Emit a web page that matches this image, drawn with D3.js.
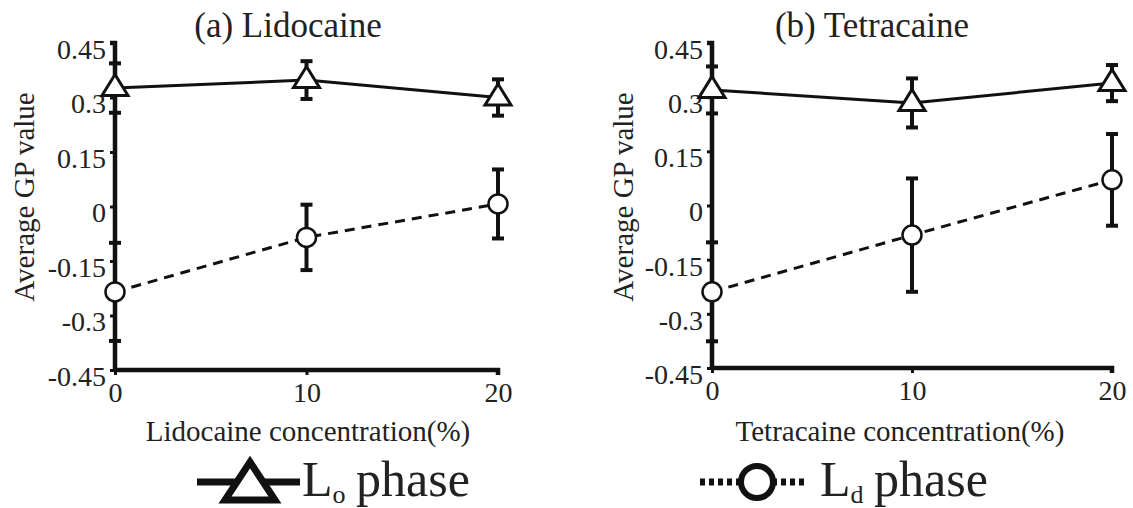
<!DOCTYPE html>
<html>
<head>
<meta charset="utf-8">
<script src="https://cdn.jsdelivr.net/npm/d3@7"></script>
<style>
  body { margin: 0; background: #fff; }
  svg { display: block; }
  text { font-family: "Liberation Serif", "Times New Roman", serif; fill: #222; }
</style>
</head>
<body>
<div id="container"></div>
<script>
/* DATA */
const conc = [0, 10, 20]
const yTicks = [0.45, 0.3, 0.15, 0, -0.15, -0.3, -0.45]
const yTickLabels = ["0.45", "0.3", "0.15", "0", "-0.15", "-0.3", "-0.45"]

const loLido = [0.326, 0.348, 0.300]
const loLidoErr = [0.068, 0.052, 0.05]
const ldLido = [-0.235, -0.085, 0.007]
const ldLidoErr = [0.135, 0.09, 0.095]

const loTetra = [0.32, 0.284, 0.339]
const loTetraErr = [0.065, 0.068, 0.05]
const ldTetra = [-0.239, -0.082, 0.071]
const ldTetraErr = [0.137, 0.157, 0.127]

const titles = ["(a) Lidocaine", "(b) Tetracaine"]
const xLabels = ["Lidocaine concentration(%)", "Tetracaine concentration(%)"]

/* CONSTANTS */
const width = 1133, height = 508

const svg = d3.select("#container")
  .append("svg")
  .attr("width", width)
  .attr("height", height)

const panels = [
  { x0: 115, x1: 498, top: 43, bottom: 370, lo: loLido, loErr: loLidoErr, ld: ldLido, ldErr: ldLidoErr,
    title: titles[0], titleX: 288, xLabel: xLabels[0], xLabelX: 308, yLabelX: 34 },
  { x0: 712, x1: 1112, top: 43, bottom: 368, lo: loTetra, loErr: loTetraErr, ld: ldTetra, ldErr: ldTetraErr,
    title: titles[1], titleX: 872, xLabel: xLabels[1], xLabelX: 900, yLabelX: 633 }
]

// triangle marker, centroid at the data point
const tri = "M0,-13.5L13,7.5L-13,7.5Z"

panels.forEach(p => {
  const g = svg.append("g")

  const xScale = d3.scaleLinear().domain([0, 20]).range([p.x0, p.x1])
  const yScale = d3.scaleLinear().domain([-0.45, 0.45]).range([p.bottom, p.top])

  // AXES
  const yAxis = d3.axisLeft(yScale).tickValues(yTicks).tickFormat((d, i) => yTickLabels[i])
    .tickSize(5).tickPadding(4)
  const ya = g.append("g")
    .attr("transform", `translate(${p.x0},0)`)
    .call(yAxis)
  ya.select(".domain").attr("stroke", "#111").attr("stroke-width", 4.5).attr("d", `M-5,${p.top}H0V${p.bottom}`)
  ya.selectAll(".tick line").attr("stroke", "#111").attr("stroke-width", 3)
  ya.selectAll(".tick text")
    .attr("font-size", 28)
    .attr("fill", "#222")
    .attr("dy", "0.55em")

  const xAxis = d3.axisBottom(xScale).tickValues(conc).tickSize(5).tickPadding(7)
  const xa = g.append("g")
    .attr("transform", `translate(0,${p.bottom})`)
    .call(xAxis)
  xa.select(".domain").attr("stroke", "#111").attr("stroke-width", 4.5).attr("d", `M${p.x0},0H${p.x1}V5`)
  xa.selectAll(".tick line").attr("stroke", "#111").attr("stroke-width", 3)
  xa.selectAll(".tick text")
    .attr("font-size", 28)
    .attr("fill", "#222")

  // LABELS
  g.append("text")
    .attr("x", p.titleX).attr("y", 37)
    .attr("text-anchor", "middle")
    .attr("font-size", 35)
    .text(p.title)

  g.append("text")
    .attr("x", p.xLabelX).attr("y", 441)
    .attr("text-anchor", "middle")
    .attr("font-size", 29)
    .text(p.xLabel)

  g.append("text")
    .attr("transform", `translate(${p.yLabelX},197) rotate(-90)`)
    .attr("text-anchor", "middle")
    .attr("font-size", 29)
    .text("Average GP value")

  const lineGen = d3.line()
    .x((d, i) => xScale(conc[i]))
    .y(d => yScale(d))

  // LINES
  g.append("path")
    .attr("fill", "none").attr("stroke", "#111").attr("stroke-width", 3)
    .attr("d", lineGen(p.lo))
  g.append("path")
    .attr("fill", "none").attr("stroke", "#111").attr("stroke-width", 3)
    .attr("stroke-dasharray", "10,7")
    .attr("d", lineGen(p.ld))

  // ERROR BARS
  const series = [
    { v: p.lo, e: p.loErr },
    { v: p.ld, e: p.ldErr }
  ]
  series.forEach(s => {
    s.v.forEach((v, i) => {
      const x = xScale(conc[i])
      const y0 = yScale(v - s.e[i]), y1 = yScale(v + s.e[i])
      g.append("line")
        .attr("x1", x).attr("x2", x).attr("y1", y0).attr("y2", y1)
        .attr("stroke", "#111").attr("stroke-width", 4)
      ;[y0, y1].forEach(y => {
        g.append("line")
          .attr("x1", x - 6).attr("x2", x + 6).attr("y1", y).attr("y2", y)
          .attr("stroke", "#111").attr("stroke-width", 4)
      })
    })
  })

  // MARKERS
  g.selectAll(".lo")
    .data(p.lo)
    .join("path")
    .attr("class", "lo")
    .attr("transform", (d, i) => `translate(${xScale(conc[i])},${yScale(d)})`)
    .attr("d", tri)
    .attr("fill", "#fff").attr("stroke", "#111").attr("stroke-width", 3)
    .attr("stroke-linejoin", "miter")

  g.selectAll(".ld")
    .data(p.ld)
    .join("circle")
    .attr("class", "ld")
    .attr("cx", (d, i) => xScale(conc[i]))
    .attr("cy", d => yScale(d))
    .attr("r", 9.5)
    .attr("fill", "#fff").attr("stroke", "#111").attr("stroke-width", 2.5)
})

// LEGEND
const leg = svg.append("g")
leg.append("line").attr("x1", 197).attr("x2", 300).attr("y1", 482).attr("y2", 482)
  .attr("stroke", "#111").attr("stroke-width", 7)
leg.append("path").attr("d", "M250,462L275,500L225,500Z")
  .attr("fill", "#fff").attr("stroke", "#111").attr("stroke-width", 7)
const t1 = leg.append("text").attr("x", 302).attr("y", 496).attr("font-size", 50)
t1.append("tspan").text("L")
t1.append("tspan").attr("font-size", 26).attr("dy", 7).text("o")
t1.append("tspan").attr("dy", -7).attr("dx", -2).text(" phase")

leg.append("line").attr("x1", 700).attr("x2", 805).attr("y1", 482).attr("y2", 482)
  .attr("stroke", "#111").attr("stroke-width", 7).attr("stroke-dasharray", "5,4")
leg.append("circle").attr("cx", 757).attr("cy", 482).attr("r", 16)
  .attr("fill", "#fff").attr("stroke", "#111").attr("stroke-width", 6)
const t2 = leg.append("text").attr("x", 820).attr("y", 496).attr("font-size", 50)
t2.append("tspan").text("L")
t2.append("tspan").attr("font-size", 26).attr("dy", 7).text("d")
t2.append("tspan").attr("dy", -7).attr("dx", -2).text(" phase")
</script>
</body>
</html>
